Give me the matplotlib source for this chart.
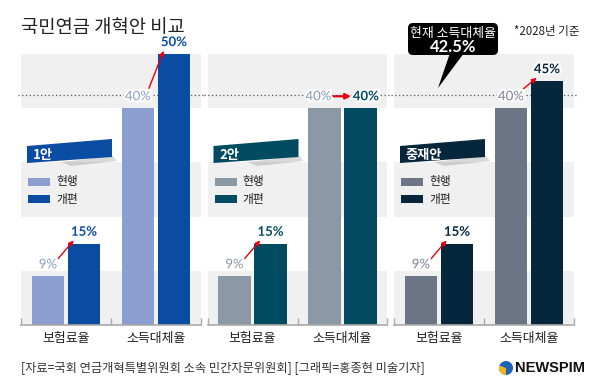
import numpy as np
import matplotlib
matplotlib.use("Agg")
import matplotlib.pyplot as plt
import matplotlib.patheffects as pe
from matplotlib.patches import Polygon, Rectangle, FancyBboxPatch, Circle, Wedge

plt.rcParams['font.family'] = ['Noto Sans CJK KR', 'DejaVu Sans']

# Data
categories = ['보험료율', '소득대체율']
plans = ['1안', '2안', '중재안']
current = [9, 40]
reform = [[15, 50], [15, 40], [15, 45]]
current_rate = 42.5
legend_labels = ['현행', '개편']
title = '국민연금 개혁안 비교'
note = '*2028년 기준'
bubble_text = '현재 소득대체율'
source = '[자료=국회 연금개혁특별위원회 소속 민간자문위원회] [그래픽=홍종현 미술기자]'

cur_colors = ['#8c9dd0', '#8b98a6', '#6b7585']
new_colors = ['#0a4ca2', '#014b60', '#05263b']
cur_text_colors = ['#8c9dd0', '#8b98a6', '#7a8494']
band = '#f0f0f0'
red = '#e60012'
num_font = ['Lato', 'DejaVu Sans']

W, H = 600, 390
fig = plt.figure(figsize=(6, 3.9), dpi=100)
fig.patch.set_facecolor('white')

lefts = [21, 207.5, 394]
x = np.arange(len(categories))
outline = [pe.withStroke(linewidth=3, foreground='white')]

for p, L in enumerate(lefts):
    ax = fig.add_axes([L / W, (H - 325) / H, 180 / W, 271 / H])
    ax.set_facecolor('none')
    ax.set_xlim(-0.5, 1.5)
    ax.set_ylim(0, 50)
    for lo in (0, 20, 40):
        ax.axhspan(lo, lo + 10, color=band, lw=0, zorder=0)
    ax.plot([-0.5 - 3.5 / 90, 1.5 + 3.5 / 90], [current_rate, current_rate],
            ls=(0, (1, 2)), color='#555555', lw=0.9, zorder=1, clip_on=False)
    ax.bar(x - 0.2, current, width=0.356, color=cur_colors[p], zorder=2)
    ax.bar(x + 0.2, reform[p], width=0.356, color=new_colors[p], zorder=2)

    for i in range(len(categories)):
        c, n = current[i], reform[p][i]
        if c == n:
            cx, nx = x[i] - 0.267, x[i] + 0.261
            ax.annotate('', xy=(x[i] + 0.095, c + 2.2), xytext=(x[i] - 0.105, c + 2.2),
                        arrowprops=dict(arrowstyle='-|>', color=red, lw=1.6, mutation_scale=8,
                                        shrinkA=0, shrinkB=0),
                        zorder=5, annotation_clip=False)
        else:
            cx, nx = x[i] - 0.2, x[i] + 0.2
            ax.annotate('', xy=(x[i] + 0.085, n + 0.6), xytext=(x[i] - 0.09, c + 3.2),
                        arrowprops=dict(arrowstyle='-|>', color=red, lw=1.0, mutation_scale=7,
                                        shrinkA=0, shrinkB=0),
                        zorder=5, annotation_clip=False)
        ax.text(cx, c + 2.2, f'{c}%', ha='center', va='center', fontsize=9.5,
                family=num_font, color=cur_text_colors[p], path_effects=outline,
                zorder=6, clip_on=False)
        ax.text(nx, n + 2.2, f'{n}%', ha='center', va='center', fontsize=9.5,
                family=num_font, fontweight='bold', color=new_colors[p],
                path_effects=outline, zorder=6, clip_on=False)

    for s in ('top', 'left', 'right'):
        ax.spines[s].set_visible(False)
    ax.spines['bottom'].set_color('#aaaaaa')
    ax.spines['bottom'].set_linewidth(1.2)
    ax.set_yticks([])
    ax.set_xticks(x)
    ax.set_xticklabels(categories, fontsize=9.3, color='#222222')
    ax.tick_params(axis='x', which='major', length=0, pad=5)
    ax.set_xticks([-0.5, 0.5, 1.5], minor=True)
    ax.tick_params(axis='x', which='minor', direction='in', length=5,
                   width=1, color='#aaaaaa')

# Overlay for decorations
ov = fig.add_axes([0, 0, 1, 1])
ov.set_facecolor('none')
ov.set_xlim(0, W)
ov.set_ylim(H, 0)
ov.axis('off')

ov.text(21, 27, title, fontsize=13.5, va='center', color='#222222')
ov.text(580, 32, note, fontsize=8.3, va='center', ha='right', color='#222222')

# speech bubble
ov.add_patch(FancyBboxPatch((408, 23), 90, 32, boxstyle='round,pad=0,rounding_size=5',
                            fc='black', ec='none'))
ov.add_patch(Polygon([(450, 53), (464, 53), (438, 88)], closed=True, fc='black', ec='none'))
ov.text(453, 33, bubble_text, color='white', fontsize=9.3, ha='center', va='center')
ov.text(453, 46.5, f'{current_rate}%', color='white', fontsize=12, ha='center', va='center',
        family=num_font, fontweight='bold')

# plan ribbons and legends
for p, L in enumerate(lefts):
    ov.add_patch(Polygon([(L + 40, 162), (L + 92, 156), (L + 96, 161), (L + 50, 166)],
                         closed=True, fc='black', alpha=0.15, ec='none'))
    ov.add_patch(Polygon([(L + 6, 146), (L + 91, 139), (L + 91, 157), (L + 6, 163)],
                         closed=True, fc=new_colors[p], ec='none'))
    ov.text(L + 12, 155.5, plans[p], color='white', fontsize=9.5, fontweight='bold',
            va='center')
    ov.add_patch(Rectangle((L + 7, 178), 22, 8, fc=cur_colors[p], ec='none'))
    ov.add_patch(Rectangle((L + 7, 195), 22, 8, fc=new_colors[p], ec='none'))
    ov.text(L + 35, 182, legend_labels[0], fontsize=8.5, va='center', color='#222222')
    ov.text(L + 35, 199, legend_labels[1], fontsize=8.5, va='center', color='#222222')

# footer
ov.text(21, 368, source, fontsize=8.8, va='center', color='#333333')
ov.add_patch(Circle((506, 368), 7, fc='#1d63b8', ec='none'))
ov.add_patch(Wedge((506, 368), 7, 90, 200, fc='#f2b61c', ec='none'))
ov.text(515, 368.5, 'NEWSPIM', fontsize=10.5, fontweight='bold', va='center',
        family=['Liberation Sans', 'DejaVu Sans'], color='#111111')

fig.savefig('out.png', dpi=100, facecolor='white')
